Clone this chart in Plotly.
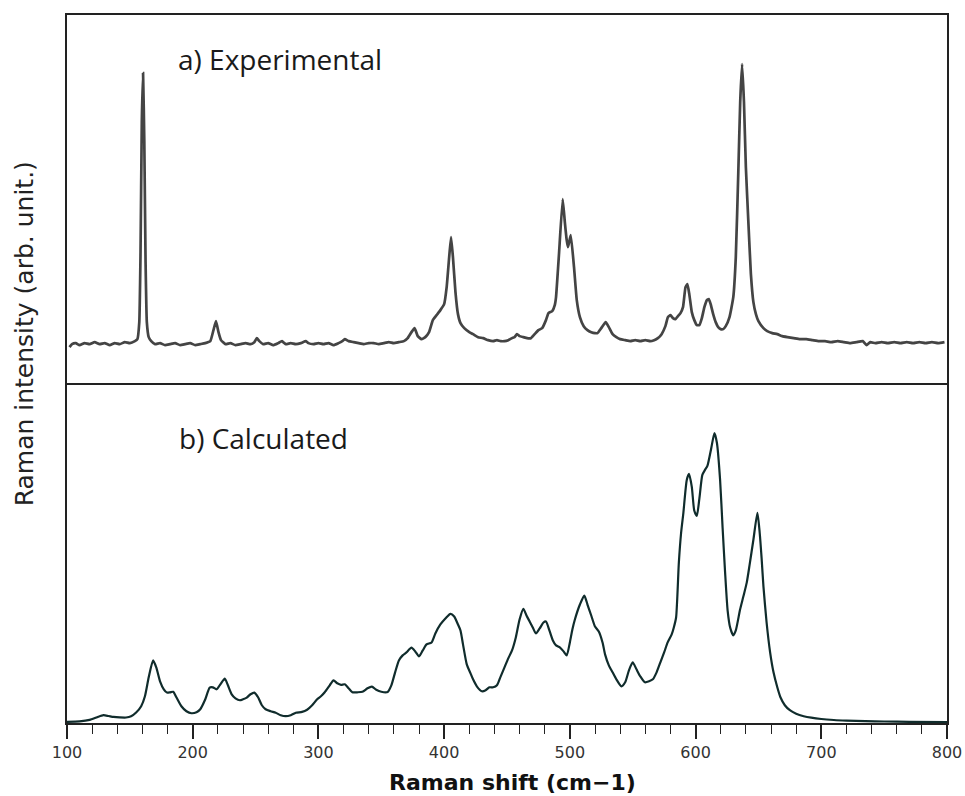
import plotly.graph_objects as go

# ---------------- data ----------------
# a) Experimental spectrum: Raman shift (cm-1) and intensity (arb. unit)
exp_shift = [102, 104, 107, 110, 114, 118, 122, 126, 130, 134, 138, 142, 146, 150, 154, 156,
             157.5, 158.5, 159.5, 160.5, 161.5, 162.5, 163.5, 165, 167, 170, 174, 178, 182, 186,
             190, 194, 198, 202, 206, 210, 214, 216.5, 218.5, 220.5, 222.5, 226, 230, 234, 238,
             242, 246, 249, 251, 253, 256, 260, 264, 268, 271, 274, 278, 282, 286, 290, 292, 296,
             300, 304, 308, 312, 316, 319, 321, 324, 328, 332, 336, 340, 344, 348, 352, 356, 360,
             364, 368, 371, 374, 376.5, 379, 382, 385, 388, 391, 394, 397, 400, 402, 404, 405.5,
             407, 409, 411, 413, 416, 420, 423, 427, 431, 435, 439, 442, 445, 448, 451, 454, 456,
             458, 460, 463, 466, 469, 472, 475, 478, 481, 483, 486, 488, 489, 491.4, 494.3, 496,
             497.5, 498.5, 500.7, 503.3, 505.5, 508, 511, 514, 517, 520, 522, 525, 528.5, 531, 534,
             537, 540, 544, 548, 552, 556, 560, 564, 567, 570, 573, 576, 578, 580, 582, 584, 586,
             588, 590, 592, 593.5, 595, 597, 599, 601, 603, 605, 607, 609, 610.5, 612, 614, 616,
             618, 620, 622, 624, 627, 630, 632, 634, 635.5, 637, 638.5, 640, 642, 644, 646, 648,
             650, 654, 657, 661, 665, 669, 673, 678, 683, 688, 693, 698, 703, 708, 713, 718, 723,
             728, 733, 736, 739, 743, 748, 753, 758, 763, 768, 773, 778, 783, 788, 793, 798]
exp_intensity = [-5, -2, -1, -3, -1, -2, 0, -2, -1, -3, -1, -2, 0, -1, 1, 3,
                 20, 90, 220, 269, 200, 80, 20, 5, 1, -2, -1, -3, -2, -1,
                 -3, -2, -1, -3, -2, -1, 1, 12, 21, 10, 2, -2, -1, -3, -2,
                 -1, -2, 0, 4, 1, -2, -1, -3, -1, 1, -2, -1, -2, -1, 1, -1, -2,
                 -1, -2, -1, -3, -1, 1, 3, 1, 0, -1, -2, -1, -1, -2, -1, 0, -1,
                 0, 1, 4, 10, 14, 6, 3, 5, 10, 22, 27, 32, 38, 55, 85, 105,
                 85, 50, 28, 19, 14, 10, 8, 5, 4, 2, 1, 2, 1, 1, 2, 4, 5,
                 8, 6, 5, 4, 4, 8, 12, 14, 22, 29, 31, 37, 45, 89, 143, 120,
                 102, 95, 107, 75, 42, 25, 16, 12, 10, 9, 9, 14, 20, 15, 8,
                 5, 3, 2, 1, 2, 1, 2, 1, 2, 4, 8, 16, 25, 27, 24, 23, 26,
                 29, 35, 55, 58, 48, 30, 22, 17, 17, 24, 35, 42, 43, 38, 28, 20,
                 15, 13, 13, 16, 25, 45, 85, 170, 240, 278, 240, 175, 120, 68, 40, 28,
                 21, 14, 11, 9, 8, 6, 5, 4, 3, 3, 2, 1, 1, 0, 1, 0, -1,
                 0, 1, -3, 0, -1, 0, -1, 0, -1, 0, -1, 0, -1, 0, -1, 0]

# b) Calculated spectrum
calc_shift = [100, 110, 118, 124, 129, 133, 137, 142, 147, 151, 155, 159, 162, 165, 168.5, 171,
              174, 177, 179.5, 182, 184.5, 187, 191, 195, 199, 203, 206, 210, 213.5, 216, 219,
              222, 225.5, 228, 231, 234, 237.5, 240, 243, 246, 249, 252, 255, 258, 262, 266,
              270, 274, 278, 282, 287, 291, 295, 299, 302, 305, 309, 312, 315, 318, 321, 324,
              327, 331, 335, 339, 342.5, 346, 350, 355, 358, 361, 364, 367, 370, 374, 377, 380,
              383, 386, 390, 393, 397, 401, 405, 408, 411, 413, 415, 418, 421, 423, 426, 430,
              433, 436, 439, 442, 445, 448, 451, 454, 457, 460, 463, 465.5, 468, 470.5, 473, 476,
              479, 481, 484, 486.5, 489, 492, 495, 497.5, 500, 502, 504, 508, 511.5, 514, 517,
              520, 523, 526, 528, 531, 534, 537, 541, 544, 547, 550, 553, 556, 559.7, 563, 566,
              569, 572, 575, 577.8, 581, 582.7, 584.5, 586.7, 588.5, 590.3, 593, 594.8, 597, 599,
              601, 603, 605.4, 607.5, 609.4, 612.5, 615, 617, 619.5, 621.5, 623.5, 625.5, 627.5,
              630, 632, 635.4, 638, 640.7, 643, 646, 649.2, 651, 652.5, 654, 656.5, 659.3, 662,
              665, 667.5, 671, 675, 680, 686, 692, 700, 710, 720, 735, 750, 770, 800]
calc_intensity = [0.3, 0.8, 2.3, 5, 7, 6.2, 5.3, 4.8, 4.7, 6, 9.7, 16, 26, 45, 62, 55,
                  41, 33, 29.7, 30, 30.5, 25, 16, 11, 9, 10, 13, 23, 34.7, 35, 33,
                  38, 43.7, 37, 28, 24, 22, 23, 24.7, 28, 29.7, 25, 17, 13, 11, 9.5,
                  7, 6, 7, 9.5, 10.3, 12.5, 17, 23, 26, 30, 37, 42, 39, 37.5, 38, 34,
                  30, 30, 30.5, 34, 35.7, 32.5, 30.5, 30.3, 37, 50, 62, 67, 70, 74.7, 71, 66,
                  72, 78, 80, 89, 98, 104, 108.7, 106, 98, 92, 78, 58, 49, 43, 36, 31,
                  32, 35, 35, 37, 46, 55, 64, 72, 85, 103, 113.7, 107, 101, 95, 89, 94,
                  100, 101, 91, 82, 77, 75, 71, 67, 80, 93, 103, 118, 127, 118, 107,
                  96, 91, 80, 68, 57, 50, 43, 36, 40, 52, 60, 53, 46, 40, 41, 43,
                  50, 60, 70, 80, 88, 95, 105, 160, 190, 210, 243, 249, 236, 212,
                  207, 224, 248, 253, 257, 275, 290, 280, 243, 195, 150, 112, 95,
                  87, 92, 113, 126, 140, 158, 183, 210, 190, 165, 136, 100, 70, 50,
                  35, 25, 17, 12, 8.5, 6, 4.5, 3.2, 2.2, 1.6, 1, 0.7, 0.4, 0.2]

x_ticks = [100, 200, 300, 400, 500, 600, 700, 800]
panel_labels = ["a) Experimental", "b) Calculated"]
x_title = "Raman shift (cm\u22121)"
y_title = "Raman intensity (arb. unit.)"

# ---------------- figure ----------------
fig = go.Figure()
fig.add_trace(go.Scatter(x=exp_shift, y=exp_intensity, xaxis="x2", yaxis="y2", mode="lines",
                         line=dict(color="#444444", width=2.7, shape="spline", smoothing=0.4),
                         showlegend=False))
fig.add_trace(go.Scatter(x=calc_shift, y=calc_intensity, xaxis="x", yaxis="y", mode="lines",
                         line=dict(color="#102c2c", width=2.2, shape="spline", smoothing=0.6),
                         showlegend=False))

axis_line = dict(showline=True, linecolor="#222222", linewidth=1.5, automargin=False,
                 showgrid=False, zeroline=False)

fig.update_layout(
    template="none",
    autosize=False,
    width=965, height=796,
    margin=dict(l=67, r=18, t=15, b=73, pad=0),
    paper_bgcolor="white", plot_bgcolor="white",
    xaxis=dict(range=[100, 800], tickvals=x_ticks, ticks="outside", ticklen=14, tickwidth=1.5,
               tickcolor="#222222",
               minor=dict(dtick=20, tick0=100, ticks="outside", ticklen=9, tickwidth=1.2,
                          tickcolor="#222222", showgrid=False),
               tickfont=dict(family="DejaVu Sans", size=16, color="#333333"),
               anchor="y", mirror=False, **axis_line),
    yaxis=dict(domain=[0, 0.48], range=[-0.8, 340], showticklabels=False, ticks="",
               anchor="x", mirror=True, **axis_line),
    xaxis2=dict(range=[100, 800], matches="x", showticklabels=False, ticks="",
                anchor="y2", mirror=True, **axis_line),
    yaxis2=dict(domain=[0.48, 1], range=[-41, 327], showticklabels=False, ticks="",
                anchor="x2", mirror=True, **axis_line),
    annotations=[
        dict(text=panel_labels[0], x=186.7, y=283, xref="x2", yref="y2", xanchor="left",
             yanchor="middle", showarrow=False,
             font=dict(family="Open Sans", size=28, color="#1a1a1a")),
        dict(text=panel_labels[1], x=187.5, y=285, xref="x", yref="y", xanchor="left",
             yanchor="middle", showarrow=False,
             font=dict(family="Open Sans", size=28, color="#1a1a1a")),
        dict(text=y_title, x=-0.048, y=0.55, xref="paper", yref="paper", textangle=-90,
             xanchor="center", yanchor="middle", showarrow=False,
             font=dict(family="DejaVu Sans", size=25, color="#222222")),
        dict(text="<b>" + x_title + "</b>", x=0.5057, y=-0.0847, xref="paper", yref="paper",
             xanchor="center", yanchor="middle", showarrow=False,
             font=dict(family="DejaVu Sans", size=22, color="#111111")),
    ],
)

fig.write_html(
    "out.html",
    post_script="document.body.style.margin='0';document.body.style.overflow='hidden';",
)
